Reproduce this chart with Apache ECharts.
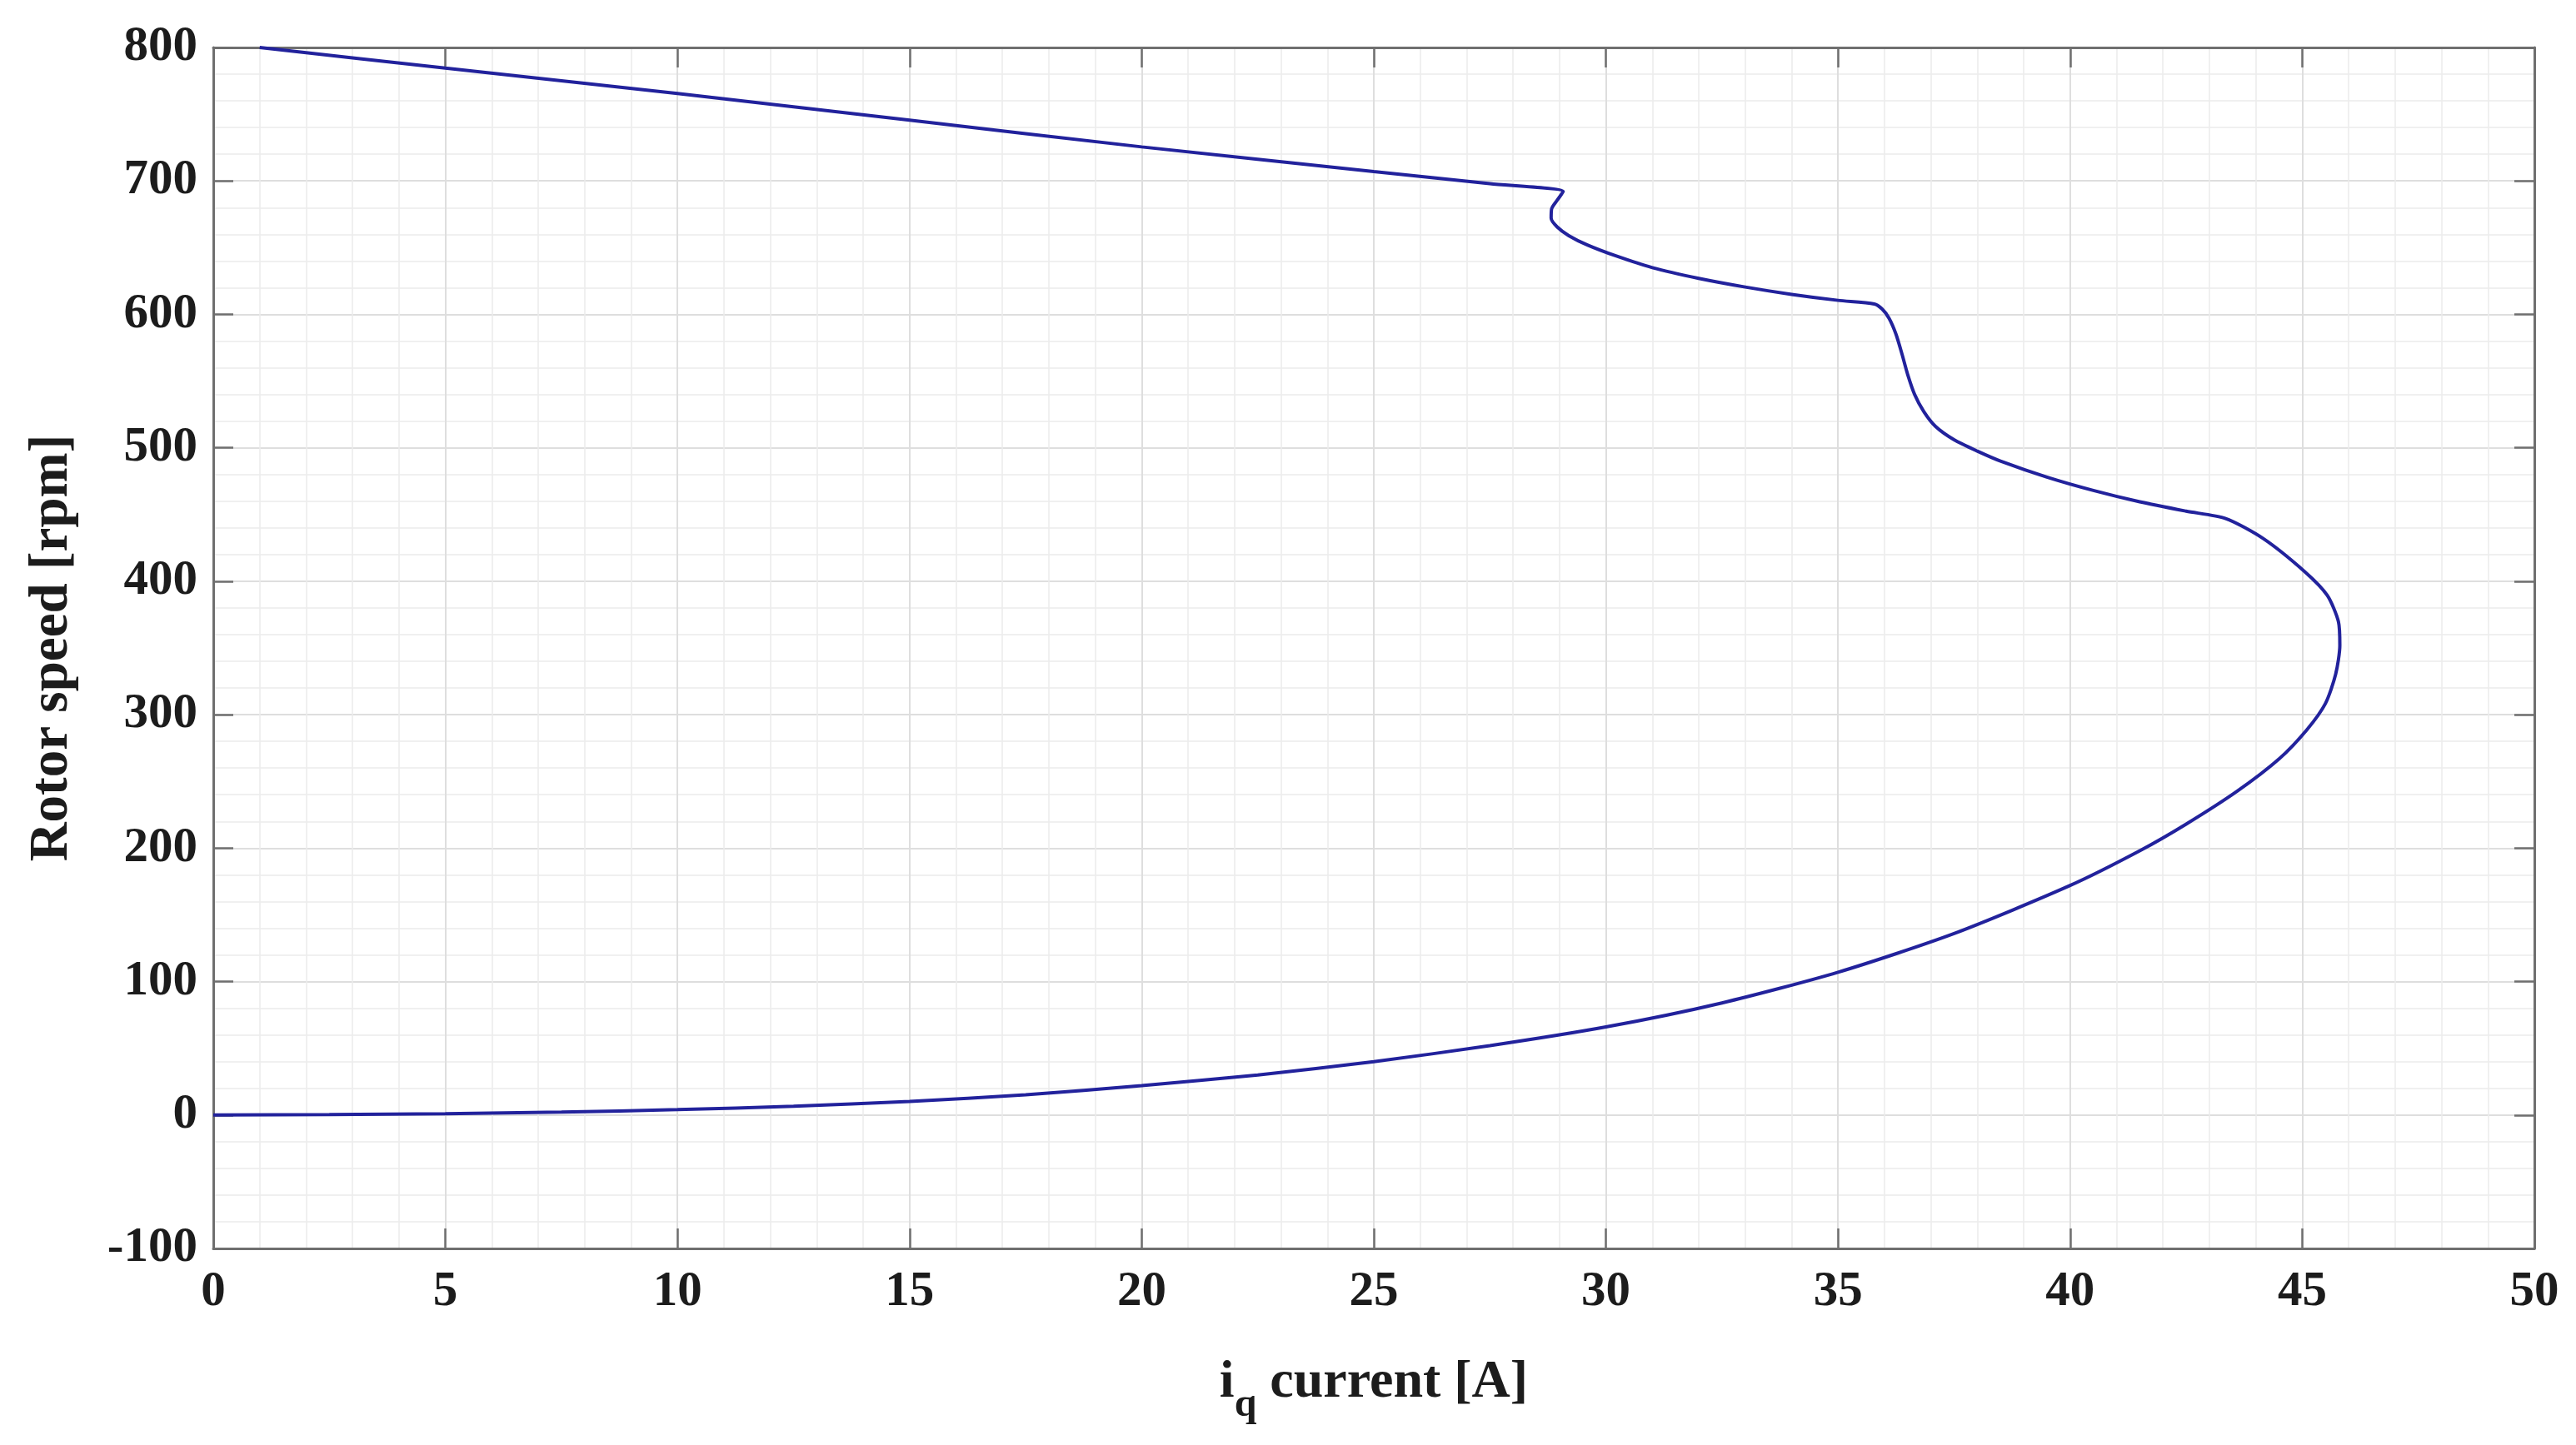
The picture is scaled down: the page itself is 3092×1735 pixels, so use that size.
<!DOCTYPE html>
<html>
<head>
<meta charset="utf-8">
<script src="https://cdn.jsdelivr.net/npm/echarts@6/dist/echarts.min.js"></script>
<style>
html,body{margin:0;padding:0;background:#fff;}
#chart{width:3092px;height:1735px;}
</style>
</head>
<body>
<div id="chart"></div>
<script>
// i_q current [A] (x) and rotor speed [rpm] (y), traced along the trajectory
const iqCurrent = [0, 2.5, 5, 7.5, 10, 12.5, 15, 17.5, 20, 22.5, 25, 27.5, 30, 32.5, 35, 37.5, 40, 41.5, 42.5, 43.6, 44.5, 45.1, 45.5, 45.72, 45.81, 45.78, 45.54, 45.06, 44.16, 43.35,
  42.5, 41.5, 40.5, 39.5, 38.5, 38.0, 37.5, 37.1, 36.85, 36.65, 36.5, 36.38, 36.25, 36.1, 35.95, 35.78,
  35.0, 34.0, 33.0, 32.0, 31.0, 30.2, 29.6, 29.2, 28.95, 28.82, 28.83, 28.95, 29.08,
  27.5, 25, 20, 15, 10, 5, 1.0];
const rotorSpeed = [0, 0.3, 1.0, 2.2, 4, 6.6, 10.2, 15.2, 22, 30, 40, 52, 66, 84, 107, 136, 172, 198, 218, 242.7, 266.8, 288.7, 308.4, 330.3, 352, 369.7, 389.4, 407, 432, 447,
  452.5, 459.5, 468, 478, 490, 497.5, 506, 516, 527, 540, 555, 570, 585, 597, 604, 607.8,
  610.5, 615, 620.5, 627, 635, 644, 652, 659, 665.5, 672, 679, 685.5, 692,
  698, 707, 725.5, 745.5, 765.5, 784.5, 800];
const xTicks = {min: 0, max: 50, interval: 5};
const yTicks = {min: -100, max: 800, interval: 100};

const trajectory = iqCurrent.map((x, i) => [x, rotorSpeed[i]]);

const FONT = '"Liberation Serif", "Times New Roman", serif';
const AXIS_COLOR = '#6f6f6f';
const LABEL_COLOR = '#1c1c1c';

const chart = echarts.init(document.getElementById('chart'), null, {renderer: 'canvas'});

const baseAxis = {
  type: 'value',
  axisLine: {show: true, onZero: false, lineStyle: {color: AXIS_COLOR, width: 3}},
  axisTick: {show: true, inside: true, length: 24, lineStyle: {color: AXIS_COLOR, width: 2.5}},
  minorTick: {show: false, splitNumber: 5},
};

chart.setOption({
  animation: false,
  backgroundColor: '#ffffff',
  grid: {left: 256, right: 50, top: 57, bottom: 236, containLabel: false},
  xAxis: [
    Object.assign({}, baseAxis, {
      position: 'bottom',
      min: xTicks.min, max: xTicks.max, interval: xTicks.interval,
      axisLabel: {show: true, margin: 23, fontFamily: FONT, fontWeight: 'bold', fontSize: 59, color: LABEL_COLOR},
      splitLine: {show: true, lineStyle: {color: '#dedede', width: 2}},
      minorSplitLine: {show: true, lineStyle: {color: '#ececec', width: 1.5}},
      name: '{a|i}{q|q}{a| current [A]}',
      nameLocation: 'middle',
      nameGap: 129,
      nameTextStyle: {
        rich: {
          a: {fontFamily: FONT, fontWeight: 'bold', fontSize: 64, lineHeight: 64, color: LABEL_COLOR, verticalAlign: 'top'},
          q: {fontFamily: FONT, fontWeight: 'bold', fontSize: 48, lineHeight: 48, color: LABEL_COLOR, verticalAlign: 'top', padding: [36, 0, 0, 0]}
        }
      }
    }),
    Object.assign({}, baseAxis, {
      position: 'top',
      min: xTicks.min, max: xTicks.max, interval: xTicks.interval,
      axisLabel: {show: false},
      splitLine: {show: false}
    })
  ],
  yAxis: [
    Object.assign({}, baseAxis, {
      position: 'left',
      min: yTicks.min, max: yTicks.max, interval: yTicks.interval,
      axisLabel: {show: true, margin: 19, fontFamily: FONT, fontWeight: 'bold', fontSize: 59, color: LABEL_COLOR},
      splitLine: {show: true, lineStyle: {color: '#dedede', width: 2}},
      minorSplitLine: {show: true, lineStyle: {color: '#ececec', width: 1.5}},
      name: 'Rotor speed [rpm]',
      nameLocation: 'middle',
      nameGap: 160,
      nameTextStyle: {fontFamily: FONT, fontWeight: 'bold', fontSize: 65, color: LABEL_COLOR}
    }),
    Object.assign({}, baseAxis, {
      position: 'right',
      min: yTicks.min, max: yTicks.max, interval: yTicks.interval,
      axisLabel: {show: false},
      splitLine: {show: false}
    })
  ],
  series: [{
    type: 'line',
    xAxisIndex: 0,
    yAxisIndex: 0,
    data: trajectory,
    showSymbol: false,
    smooth: 0.25,
    lineStyle: {color: '#22229c', width: 4},
    z: 5
  }]
});
</script>
</body>
</html>
